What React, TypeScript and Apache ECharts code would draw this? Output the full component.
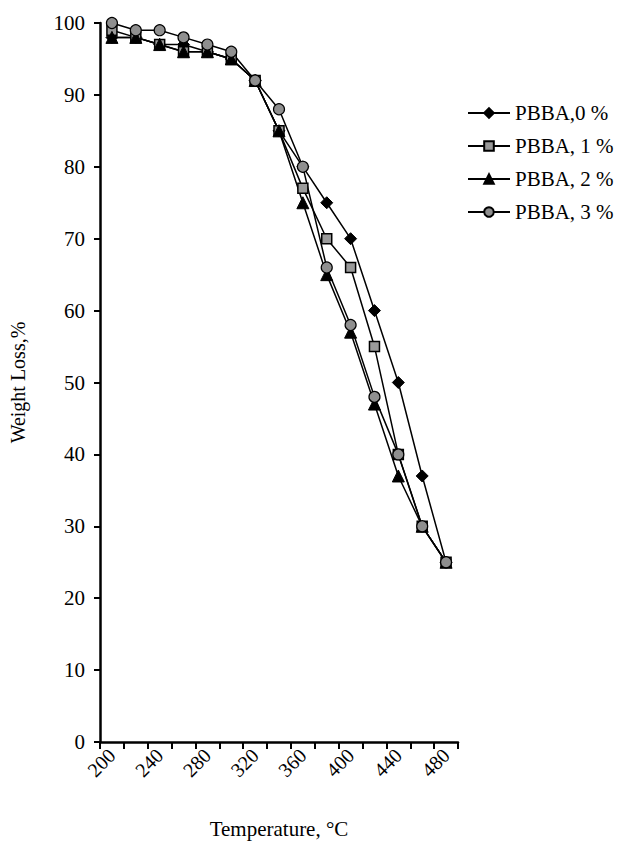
import React, { useEffect, useRef } from "react";
import * as echarts from "echarts";

const categories = ["200", "220", "240", "260", "280", "300", "320", "340", "360", "380", "400", "420", "440", "460", "480"];
const pbba0 = [98, 98, 97, 97, 96, 95, 92, 85, 80, 75, 70, 60, 50, 37, 25];
const pbba1 = [99, 98, 97, 96, 96, 95, 92, 85, 77, 70, 66, 55, 40, 30, 25];
const pbba2 = [98, 98, 97, 96, 96, 95, 92, 85, 75, 65, 57, 47, 37, 30, 25];
const pbba3 = [100, 99, 99, 98, 97, 96, 92, 88, 80, 66, 58, 48, 40, 30, 25];
const seriesNames = ["PBBA,0 %", "PBBA, 1 %", "PBBA, 2 %", "PBBA, 3 %"];

const FONT = "'Liberation Serif', 'Times New Roman', serif";

export default function App() {
  const ref = useRef<HTMLDivElement>(null);
  useEffect(() => {
    if (!ref.current) return;
    const chart = echarts.init(ref.current, null, { renderer: "svg" });
    const mk = (name: string, data: number[], symbol: string, size: number, fill: string, border: number) => ({
      name,
      type: "line",
      data,
      symbol,
      symbolSize: size,
      showAllSymbol: true,
      lineStyle: { color: "#000", width: 1.5 },
      itemStyle: { color: fill, borderColor: "#000", borderWidth: border },
      emphasis: { disabled: true },
    });
    chart.setOption({
      animation: false,
      backgroundColor: "#fff",
      grid: { left: 100, top: 23, width: 358, height: 722 },
      legend: {
        orient: "vertical",
        left: 462,
        top: 96,
        itemWidth: 42,
        itemHeight: 12,
        itemGap: 9,
        textStyle: { fontFamily: FONT, fontSize: 21, color: "#000", lineHeight: 24 },
        data: seriesNames,
      },
      xAxis: {
        type: "category",
        data: categories,
        boundaryGap: true,
        name: "Temperature, °C",
        nameLocation: "middle",
        nameGap: 76,
        nameTextStyle: { fontFamily: FONT, fontSize: 21, color: "#000" },
        axisLine: { lineStyle: { color: "#000", width: 2.5 } },
        axisTick: { show: true, interval: 0, length: 7, lineStyle: { color: "#000", width: 2 } },
        axisLabel: { interval: 1, rotate: 45, fontFamily: FONT, fontSize: 20, color: "#000", margin: 10 },
        splitLine: { show: false },
      },
      yAxis: {
        type: "value",
        min: 0,
        max: 100,
        interval: 10,
        name: "Weight Loss,%",
        nameLocation: "middle",
        nameGap: 72,
        nameTextStyle: { fontFamily: FONT, fontSize: 20, color: "#000" },
        axisLine: { show: true, lineStyle: { color: "#000", width: 2.5 } },
        axisTick: { show: true, length: 6, lineStyle: { color: "#000", width: 2 } },
        axisLabel: { fontFamily: FONT, fontSize: 21, color: "#000", margin: 15 },
        splitLine: { show: false },
      },
      series: [
        mk(seriesNames[0], pbba0, "diamond", 12, "#000", 1),
        mk(seriesNames[1], pbba1, "rect", 10, "#9a9a9a", 1.5),
        mk(seriesNames[2], pbba2, "triangle", 12, "#000", 1),
        mk(seriesNames[3], pbba3, "circle", 11, "#8f8f8f", 1.2),
      ],
    });
    return () => chart.dispose();
  }, []);
  return <div ref={ref} style={{ position: "fixed", left: 0, top: 0, width: 624, height: 844 }} />;
}
